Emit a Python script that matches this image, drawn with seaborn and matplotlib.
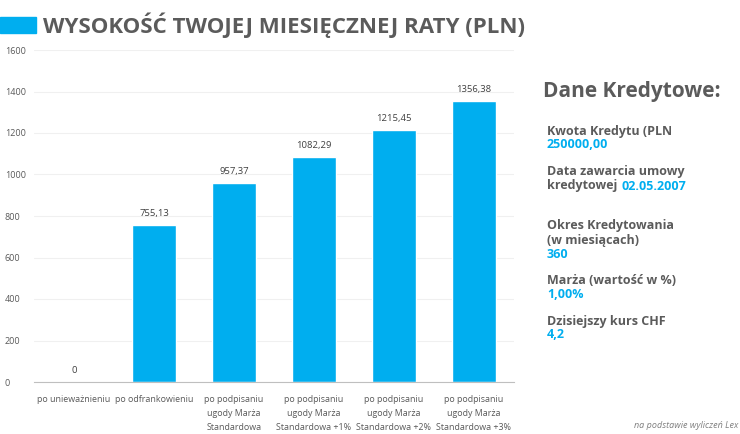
import matplotlib

matplotlib.use("Agg")
import matplotlib.pyplot as plt
import pandas as pd
import seaborn as sns
from matplotlib.patches import Rectangle

# --- data ---------------------------------------------------------------------
categories = [
    "po unieważnieniu",
    "po odfrankowieniu",
    "po podpisaniu\nugody Marża\nStandardowa",
    "po podpisaniu\nugody Marża\nStandardowa +1%",
    "po podpisaniu\nugody Marża\nStandardowa +2%",
    "po podpisaniu\nugody Marża\nStandardowa +3%",
]
values = [0, 755.13, 957.37, 1082.29, 1215.45, 1356.38]
y_ticks = [0, 200, 400, 600, 800, 1000, 1200, 1400, 1600]

panel_title = "Dane Kredytowe:"
panel_items = [
    ("Kwota Kredytu (PLN", "250000,00"),
    ("Okres Kredytowania\n(w miesiącach)", "360"),
    ("Marża (wartość w %)", "1,00%"),
    ("Dzisiejszy kurs CHF", "4,2"),
]
contract_label = ("Data zawarcia umowy", "kredytowej", "02.05.2007")
# -----------------------------------------------------------------------------

BLUE = "#00aeef"
GRAY = "#595959"
DARK = "#5b5b5b"

sns.set_theme(style="white")
plt.rcParams["font.family"] = ["Open Sans", "DejaVu Sans"]

df = pd.DataFrame({"kategoria": categories, "rata": values})

fig = plt.figure(figsize=(7.4, 4.34), dpi=100)
ax = fig.add_axes([34 / 740, 1 - 382 / 434, 480 / 740, 332 / 434])

sns.barplot(data=df, x="kategoria", y="rata", color=BLUE, saturation=1,
            width=0.55, ax=ax)

ax.set_ylim(0, 1600)
ax.set_yticks(y_ticks)
ax.set_xlim(-0.5, len(categories) - 0.5)
ax.yaxis.grid(True, color="#f0f0f0", lw=0.8)
ax.set_axisbelow(True)
for side in ["top", "right", "left"]:
    ax.spines[side].set_visible(False)
ax.spines["bottom"].set_color("#bfbfbf")
ax.spines["bottom"].set_linewidth(0.8)
ax.set_xlabel("")
ax.set_ylabel("")
ax.tick_params(axis="y", labelsize=6.5, colors=GRAY, length=0, pad=21)
ax.tick_params(axis="x", labelsize=6.4, colors=GRAY, length=0, pad=9)
for lbl in ax.get_yticklabels():
    lbl.set_horizontalalignment("left")
for lbl in ax.get_xticklabels():
    lbl.set_linespacing(1.75)

for i, v in enumerate(values):
    txt = "0" if v == 0 else f"{v:.2f}".replace(".", ",")
    ax.annotate(txt, (i, v), xytext=(0, 5), textcoords="offset points",
                ha="center", va="bottom", fontsize=6.8, color="#404040")

# title with blue block
fig.patches.append(Rectangle((0, 1 - 33 / 434), 36 / 740, 16 / 434,
                             transform=fig.transFigure, color=BLUE))
fig.text(43 / 740, 1 - 25 / 434, "WYSOKOŚĆ TWOJEJ MIESIĘCZNEJ RATY (PLN)",
         fontsize=16, fontweight="bold", color=DARK, va="center")

# side panel
fig.text(543 / 740, 1 - 91 / 434, panel_title, fontsize=15,
         fontweight="bold", color=DARK, va="center")

px = 547 / 740
lab_kw = dict(fontsize=9, fontweight="bold", color=DARK, va="center")
val_kw = dict(fontsize=9, fontweight="bold", color=BLUE, va="center")

fig.text(px, 1 - 131 / 434, panel_items[0][0], **lab_kw)
fig.text(px, 1 - 145 / 434, panel_items[0][1], **val_kw)

fig.text(px, 1 - 172 / 434, contract_label[0], **lab_kw)
fig.text(px, 1 - 186 / 434, contract_label[1], **lab_kw)
fig.text(622 / 740, 1 - 186 / 434, contract_label[2], **val_kw)

fig.text(px, 1 - 226 / 434, panel_items[1][0].split("\n")[0], **lab_kw)
fig.text(px, 1 - 240 / 434, panel_items[1][0].split("\n")[1], **lab_kw)
fig.text(px, 1 - 254 / 434, panel_items[1][1], **val_kw)

fig.text(px, 1 - 281 / 434, panel_items[2][0], **lab_kw)
fig.text(px, 1 - 295 / 434, panel_items[2][1], **val_kw)

fig.text(px, 1 - 321 / 434, panel_items[3][0], **lab_kw)
fig.text(px, 1 - 335 / 434, panel_items[3][1], **val_kw)

fig.text(738 / 740, 1 - 425 / 434, "na podstawie wyliczeń Lex",
         fontsize=6.5, style="italic", color="#7f7f7f", va="center",
         ha="right")

fig.savefig("out.png", dpi=100)
